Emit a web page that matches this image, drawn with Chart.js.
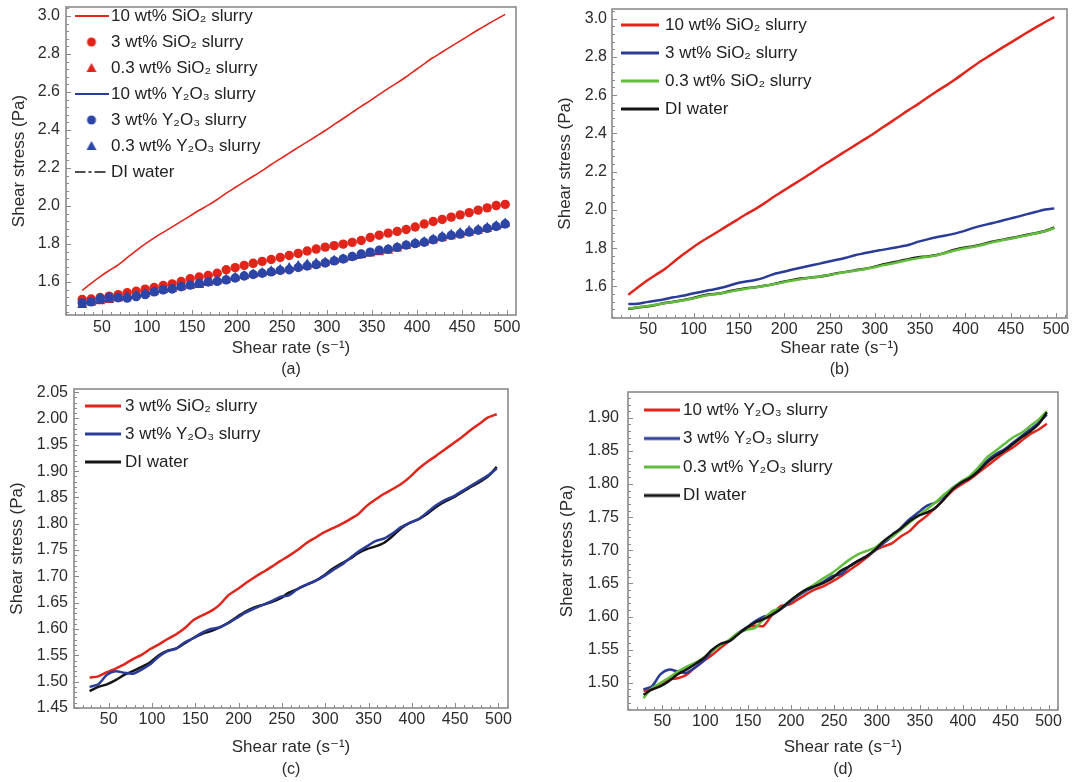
<!DOCTYPE html>
<html><head><meta charset="utf-8">
<script src="https://cdn.jsdelivr.net/npm/chart.js@4.4.0/dist/chart.umd.min.js"></script>
<style>
html,body{margin:0;padding:0;background:#fff;width:1075px;height:782px;overflow:hidden}
canvas{position:absolute;display:block}
</style></head><body>
<canvas id="ca" width="540" height="390" style="left:0;top:0"></canvas>
<canvas id="cb" width="535" height="390" style="left:540px;top:0"></canvas>
<canvas id="cc" width="540" height="407" style="left:0;top:375px"></canvas>
<canvas id="cd" width="535" height="407" style="left:540px;top:375px"></canvas>
<script>
// ---------- data ----------
const shearRate = [28, 38, 48, 58, 68, 78, 88, 98, 108, 118, 128, 138, 148, 158, 168, 178, 188, 198, 208, 218, 228, 238, 248, 258, 268, 278, 288, 298, 308, 318, 328, 338, 348, 358, 368, 378, 388, 398, 408, 418, 428, 438, 448, 458, 468, 478, 488, 498];
const xTickValues = [50, 100, 150, 200, 250, 300, 350, 400, 450, 500];
const yTicksAB = [1.6, 1.8, 2.0, 2.2, 2.4, 2.6, 2.8, 3.0];
const yTicksC = [1.45, 1.50, 1.55, 1.60, 1.65, 1.70, 1.75, 1.80, 1.85, 1.90, 1.95, 2.00, 2.05];
const yTicksD = [1.50, 1.55, 1.60, 1.65, 1.70, 1.75, 1.80, 1.85, 1.90];

const sio2_10 = [1.556, 1.593, 1.628, 1.660, 1.690, 1.728, 1.765, 1.800, 1.832, 1.861, 1.890, 1.919, 1.948, 1.977, 2.004, 2.034, 2.067, 2.097, 2.127, 2.156, 2.186, 2.218, 2.248, 2.278, 2.308, 2.337, 2.367, 2.397, 2.429, 2.460, 2.492, 2.524, 2.554, 2.587, 2.619, 2.648, 2.680, 2.714, 2.748, 2.781, 2.810, 2.840, 2.869, 2.898, 2.927, 2.955, 2.982, 3.008];
const sio2_3 = [1.508, 1.510, 1.518, 1.525, 1.533, 1.543, 1.551, 1.562, 1.571, 1.581, 1.590, 1.602, 1.617, 1.626, 1.634, 1.646, 1.664, 1.675, 1.687, 1.698, 1.708, 1.718, 1.729, 1.739, 1.750, 1.763, 1.773, 1.783, 1.791, 1.799, 1.808, 1.818, 1.834, 1.846, 1.857, 1.866, 1.876, 1.889, 1.905, 1.918, 1.929, 1.941, 1.953, 1.965, 1.978, 1.990, 2.002, 2.008];
const sio2_03 = [1.484, 1.491, 1.497, 1.504, 1.512, 1.519, 1.527, 1.536, 1.547, 1.556, 1.562, 1.571, 1.580, 1.588, 1.595, 1.602, 1.611, 1.621, 1.630, 1.638, 1.645, 1.651, 1.659, 1.667, 1.675, 1.682, 1.690, 1.699, 1.710, 1.719, 1.729, 1.739, 1.748, 1.755, 1.763, 1.775, 1.788, 1.798, 1.806, 1.817, 1.829, 1.839, 1.848, 1.858, 1.868, 1.878, 1.889, 1.905];
const y2o3_10 = [1.488, 1.490, 1.497, 1.505, 1.507, 1.512, 1.523, 1.533, 1.542, 1.553, 1.563, 1.574, 1.583, 1.586, 1.586, 1.603, 1.616, 1.618, 1.626, 1.634, 1.641, 1.646, 1.653, 1.661, 1.670, 1.679, 1.689, 1.700, 1.706, 1.711, 1.721, 1.729, 1.742, 1.752, 1.764, 1.777, 1.790, 1.799, 1.807, 1.817, 1.827, 1.837, 1.847, 1.855, 1.865, 1.875, 1.882, 1.891];
const y2o3_3 = [1.490, 1.495, 1.513, 1.520, 1.517, 1.515, 1.523, 1.533, 1.548, 1.558, 1.563, 1.575, 1.583, 1.593, 1.600, 1.603, 1.611, 1.621, 1.631, 1.639, 1.646, 1.653, 1.661, 1.664, 1.676, 1.684, 1.691, 1.700, 1.711, 1.721, 1.734, 1.747, 1.757, 1.767, 1.772, 1.782, 1.794, 1.802, 1.809, 1.822, 1.835, 1.845, 1.852, 1.862, 1.872, 1.882, 1.892, 1.905];
const y2o3_03 = [1.477, 1.492, 1.500, 1.508, 1.517, 1.524, 1.530, 1.538, 1.548, 1.557, 1.565, 1.575, 1.580, 1.583, 1.596, 1.608, 1.613, 1.623, 1.633, 1.641, 1.649, 1.658, 1.666, 1.676, 1.686, 1.694, 1.699, 1.704, 1.714, 1.721, 1.731, 1.742, 1.752, 1.762, 1.772, 1.784, 1.794, 1.804, 1.812, 1.825, 1.840, 1.850, 1.860, 1.870, 1.877, 1.887, 1.897, 1.910];
const diWater = [1.482, 1.490, 1.495, 1.503, 1.513, 1.520, 1.528, 1.537, 1.550, 1.559, 1.563, 1.573, 1.583, 1.591, 1.596, 1.603, 1.612, 1.623, 1.633, 1.641, 1.646, 1.651, 1.658, 1.669, 1.676, 1.684, 1.691, 1.701, 1.714, 1.724, 1.733, 1.744, 1.752, 1.757, 1.764, 1.777, 1.792, 1.802, 1.809, 1.819, 1.832, 1.842, 1.850, 1.860, 1.870, 1.879, 1.890, 1.908];

const LBL_S10 = '10 wt% SiO\u2082 slurry';
const LBL_S3 = '3 wt% SiO\u2082 slurry';
const LBL_S03 = '0.3 wt% SiO\u2082 slurry';
const LBL_Y10 = '10 wt% Y\u2082O\u2083 slurry';
const LBL_Y3 = '3 wt% Y\u2082O\u2083 slurry';
const LBL_Y03 = '0.3 wt% Y\u2082O\u2083 slurry';
const LBL_DI = 'DI water';
const X_TITLE = 'Shear rate (s\u207B\u00B9)';
const Y_TITLE = 'Shear stress (Pa)';

// ---------- styling ----------
const FONT = "'Liberation Sans', Arial, 'DejaVu Sans', sans-serif";
const TXT = '#2b2b2b';
const RED = '#e1251b', BLUE = '#2b3c98', GREEN = '#62bd3c', BLACK = '#151515';
const MBLUE = '#2c45a6';
Chart.defaults.font.family = FONT;

function pts(arr) { return shearRate.map((x, i) => ({ x: x, y: arr[i] })); }

function icon(kind, color, len, lw) {
  const c = document.createElement('canvas');
  c.width = len; c.height = 14;
  const g = c.getContext('2d');
  g.strokeStyle = color; g.fillStyle = color; g.lineWidth = lw || 2;
  if (kind === 'line' || kind === 'dashdot') {
    if (kind === 'dashdot') g.setLineDash([11, 3, 3, 3]);
    g.beginPath(); g.moveTo(0, 7); g.lineTo(len, 7); g.stroke();
  } else if (kind === 'circle') {
    g.beginPath(); g.arc(len / 2, 7, 4.5, 0, Math.PI * 2); g.fill();
  } else {
    g.beginPath(); g.moveTo(len / 2, 2); g.lineTo(len / 2 + 5, 11); g.lineTo(len / 2 - 5, 11); g.closePath(); g.fill();
  }
  return c;
}

function lineDs(label, arr, color, width, order, iconLen, extra) {
  return Object.assign({
    label: label, data: pts(arr), borderColor: color, backgroundColor: color,
    borderWidth: width, pointRadius: 0, tension: 0.25, order: order,
    legendIcon: icon('line', color, iconLen, 3)
  }, extra || {});
}
function markDs(label, arr, color, style, r, order) {
  return {
    label: label, data: pts(arr), showLine: false, pointStyle: style, pointRadius: r,
    pointBackgroundColor: color, pointBorderColor: color, pointBorderWidth: 0,
    borderColor: color, backgroundColor: color, order: order,
    legendIcon: icon(style, color, 34)
  };
}

// frame + inward ticks drawn through the chart's scales
const framePlugin = {
  id: 'frame',
  afterDatasetsDraw(chart, args, o) {
    const ctx = chart.ctx, a = chart.chartArea, xs = chart.scales.x, ys = chart.scales.y;
    ctx.save();
    ctx.strokeStyle = '#8a8a8a';
    ctx.lineWidth = 1;
    ctx.beginPath();
    const isMajor = (v, list) => list.some(t => Math.abs(t - v) < 1e-6);
    for (let k = Math.ceil(xs.min / o.xMinor); k * o.xMinor <= xs.max - 1; k++) {
      const v = k * o.xMinor; const px = Math.round(xs.getPixelForValue(v)) + 0.5;
      const L = isMajor(v, xTickValues) ? 5 : 3;
      ctx.moveTo(px, a.bottom); ctx.lineTo(px, a.bottom - L);
    }
    for (let k = Math.ceil(ys.min / o.yMinor - 1e-6); k * o.yMinor <= ys.max + 1e-9; k++) {
      const v = k * o.yMinor; const py = Math.round(ys.getPixelForValue(v)) + 0.5;
      const L = isMajor(v, o.yMajors) ? 5 : 3;
      ctx.moveTo(a.left, py); ctx.lineTo(a.left + L, py);
    }
    ctx.stroke();
    ctx.lineWidth = 1.6;
    ctx.strokeRect(a.left, a.top, a.right - a.left, a.bottom - a.top);
    ctx.restore();
  }
};
const legendShift = {
  id: 'legendShift',
  afterUpdate(chart, args, o) {
    const lg = chart.legend, a = chart.chartArea;
    if (!lg) return;
    lg.left = a.left + o.dx; lg.top = a.top + o.dy;
    lg.right = a.right; lg.bottom = a.bottom;
  }
};

function makePanel(id, c) {
  return new Chart(document.getElementById(id), {
    type: 'line',
    data: { datasets: c.datasets },
    options: {
      responsive: false, animation: false, devicePixelRatio: 1,
      events: [],
      layout: { padding: c.pad },
      scales: {
        x: {
          type: 'linear', min: c.xMin, max: c.xMax,
          grid: { display: false, drawTicks: false }, border: { display: false },
          ticks: { padding: c.xTickPad, autoSkip: false, maxRotation: 0, color: TXT, font: { size: 16 } },
          afterBuildTicks: s => { s.ticks = xTickValues.map(v => ({ value: v })); },
          afterFit: s => { s.height = c.xH; s.paddingLeft = 0; s.paddingRight = 0; },
          title: { display: true, text: X_TITLE, color: TXT, font: { size: 17 }, padding: { top: 0, bottom: 0 } }
        },
        y: {
          type: 'linear', min: c.yMin, max: c.yMax,
          grid: { display: false, drawTicks: false }, border: { display: false },
          ticks: { padding: c.yTickPad, color: TXT, font: { size: 16 }, callback: v => Number(v).toFixed(c.dec) },
          afterBuildTicks: s => { s.ticks = c.yTicks.map(v => ({ value: v })); },
          afterFit: s => { s.width = c.yW; s.paddingTop = 0; s.paddingBottom = 0; },
          title: { display: true, text: Y_TITLE, color: TXT, font: { size: 17 }, padding: { top: c.yTitlePad, bottom: 0 } }
        }
      },
      plugins: {
        tooltip: { enabled: false },
        title: { display: true, position: 'bottom', fullSize: false, text: c.caption, color: TXT,
                 font: { size: 16, weight: 'normal' }, padding: { top: c.capPad, bottom: 0 } },
        legend: {
          display: true, position: 'chartArea', align: 'start',
          labels: {
            usePointStyle: true, pointStyleWidth: c.lg.b, padding: c.lg.p, color: '#222',
            font: { size: 17 },
            generateLabels: ch => ch.data.datasets.map((ds, i) => ({
              text: ds.label, pointStyle: ds.legendIcon, fillStyle: ds.borderColor,
              strokeStyle: ds.borderColor, lineWidth: 0, hidden: false, datasetIndex: i, fontColor: '#222'
            }))
          }
        },
        frame: { xMinor: 10, yMinor: c.yMinor, yMajors: c.yTicks },
        legendShift: { dx: c.lg.dx, dy: c.lg.dy }
      }
    },
    plugins: [framePlugin, legendShift]
  });
}

// (a)
makePanel('ca', {
  caption: '(a)',
  datasets: [
    lineDs(LBL_S10, sio2_10, RED, 1.6, 6, 34, { legendIcon: icon('line', RED, 34, 2) }),
    markDs(LBL_S3, sio2_3, RED, 'circle', 4.7, 5),
    markDs(LBL_S03, sio2_03, RED, 'triangle', 5.6, 4),
    lineDs(LBL_Y10, y2o3_10, BLUE, 1.6, 3, 34, { legendIcon: icon('line', BLUE, 34, 2) }),
    markDs(LBL_Y3, y2o3_3, MBLUE, 'circle', 4.7, 2),
    markDs(LBL_Y03, y2o3_03, MBLUE, 'triangle', 5.6, 1),
    lineDs(LBL_DI, diWater, BLACK, 1.2, 10, 34, { borderDash: [8, 3, 2, 3], legendIcon: icon('dashdot', BLACK, 34, 1.6) })
  ],
  pad: { left: 0, top: 7, right: 24, bottom: 10.4 },
  xMin: 10, xMax: 510, yMin: 1.426, yMax: 3.047, yTicks: yTicksAB, dec: 1, yMinor: 0.04,
  yW: 66, yTitlePad: 8.8, yTickPad: 6, xTickPad: 3.4, xH: 43.2, capPad: 2.2,
  lg: { p: 9, b: 22, dx: 5.5, dy: -8.5 }
});
// (b)
makePanel('cb', {
  caption: '(b)',
  datasets: [
    lineDs(LBL_S10, sio2_10, RED, 2.5, 3, 38),
    lineDs(LBL_S3, sio2_3, BLUE, 2.5, 2, 38),
    lineDs(LBL_S03, sio2_03, GREEN, 2.5, 0, 38),
    lineDs(LBL_DI, diWater, BLACK, 2.5, 1, 38)
  ],
  pad: { left: 0, top: 9, right: 8, bottom: 10.4 },
  xMin: 10, xMax: 512, yMin: 1.435, yMax: 3.05, yTicks: yTicksAB, dec: 1, yMinor: 0.04,
  yW: 72, yTitlePad: 14.8, yTickPad: 5, xTickPad: 2.4, xH: 40.2, capPad: 2.2,
  lg: { p: 11, b: 33, dx: 0.5, dy: -3.5 }
});
// (c)
makePanel('cc', {
  caption: '(c)',
  datasets: [
    lineDs(LBL_S3, sio2_3, RED, 2.5, 2, 36),
    lineDs(LBL_Y3, y2o3_3, BLUE, 2.5, 0, 36),
    lineDs(LBL_DI, diWater, BLACK, 2.5, 1, 36)
  ],
  pad: { left: 0, top: 14, right: 32, bottom: 2.4 },
  xMin: 10, xMax: 511, yMin: 1.45, yMax: 2.056, yTicks: yTicksC, dec: 2, yMinor: 0.01,
  yW: 74, yTitlePad: 6.8, yTickPad: 6, xTickPad: 2.4, xH: 49.2, capPad: 3.2,
  lg: { p: 11, b: 27, dx: 4.5, dy: -2.5 }
});
// (d)
makePanel('cd', {
  caption: '(d)',
  datasets: [
    lineDs(LBL_Y10, y2o3_10, RED, 2.5, 3, 36),
    lineDs(LBL_Y3, y2o3_3, BLUE, 2.5, 2, 36),
    lineDs(LBL_Y03, y2o3_03, GREEN, 2.5, 1, 36),
    lineDs(LBL_DI, diWater, BLACK, 2.5, 0, 36)
  ],
  pad: { left: 0, top: 17, right: 17, bottom: 2.4 },
  xMin: 10, xMax: 511, yMin: 1.459, yMax: 1.939, yTicks: yTicksD, dec: 2, yMinor: 0.01,
  yW: 88, yTitlePad: 16.8, yTickPad: 9, xTickPad: 2.4, xH: 47.2, capPad: 3.2,
  lg: { p: 11.5, b: 25, dx: 10, dy: -2 }
});
</script>
</body></html>
